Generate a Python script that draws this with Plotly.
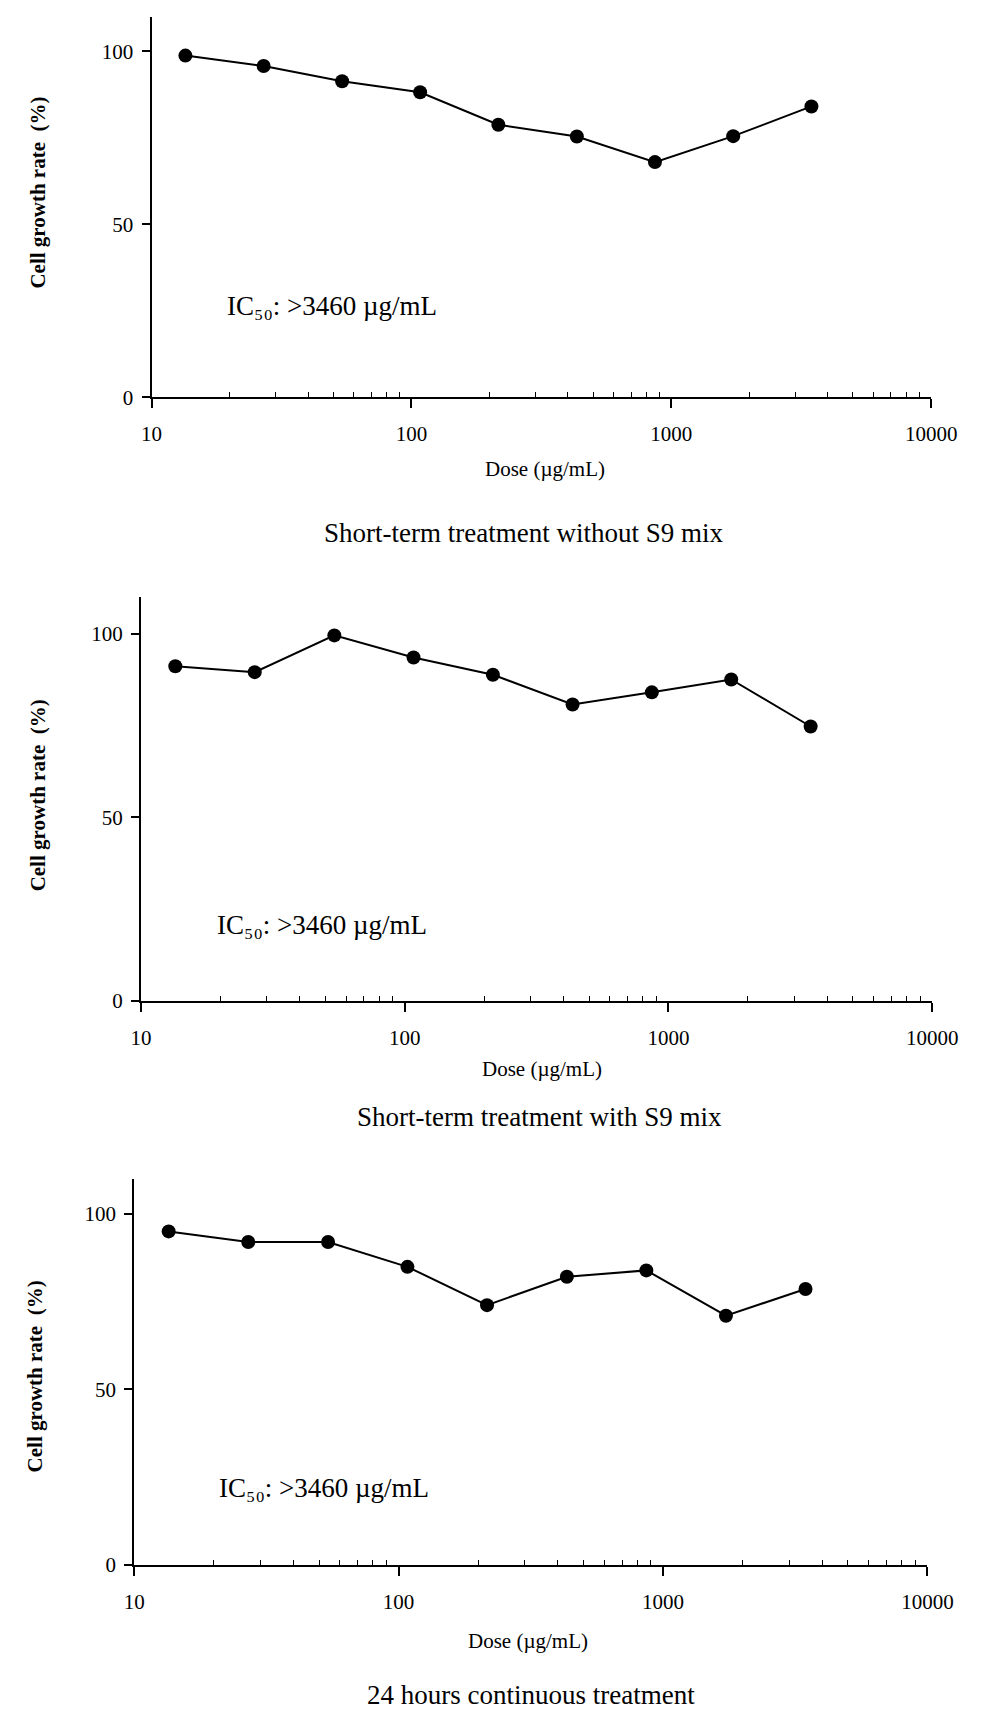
import plotly.graph_objects as go

# ---- data ----
doses = [13.5, 27.0, 54.1, 108, 216, 433, 865, 1730, 3460]
rates_without_s9 = [98.8, 95.8, 91.4, 88.2, 78.8, 75.4, 68.0, 75.5, 84.1]
rates_with_s9 = [91.1, 89.5, 99.5, 93.5, 88.8, 80.7, 84.0, 87.5, 74.7]
rates_24h = [95.0, 92.0, 92.0, 84.9, 74.0, 82.1, 83.9, 71.0, 78.6]
series = [rates_without_s9, rates_with_s9, rates_24h]
panel_titles = ["Short-term treatment without S9 mix",
                "Short-term treatment with S9 mix",
                "24 hours continuous treatment"]
x_tickvals = [10, 100, 1000, 10000]
x_ticktext = ["10", "100", "1000", "10000"]
y_tickvals = [0, 50, 100]
ic50_text = "IC\u2085\u2080: >3460 µg/mL"
x_label = "Dose (µg/mL)"
y_label = "Cell growth rate  (%)"

W, H = 989, 1720
SERIF = "Liberation Serif, Times New Roman, serif"

# panel layout in pixels
panels = [
    dict(l=146, r=956, t=17, b=400, ytitle=(28, 194), ic50=(222, 308),
         dose=(555, 472), sub=(532, 537)),
    dict(l=135, r=957, t=601, b=1008, ytitle=(28, 801), ic50=(212, 932),
         dose=(552, 1077), sub=(549, 1125)),
    dict(l=128, r=952, t=1187, b=1576, ytitle=(25, 1386), ic50=(214, 1498),
         dose=(537, 1653), sub=(540, 1707)),
]

minor_vals = [m * d for d in (10, 100, 1000) for m in range(2, 10)]

fig = go.Figure()
annotations = []
for i, (p, ys) in enumerate(zip(panels, series)):
    n = "" if i == 0 else str(i + 1)
    fig.add_trace(go.Scatter(
        x=doses, y=ys, mode="lines+markers",
        line=dict(color="black", width=2),
        marker=dict(color="black", size=14),
        xaxis="x" + n, yaxis="y" + n, showlegend=False, cliponaxis=False))
    fig.update_layout(**{
        "xaxis" + n: dict(
            domain=[p["l"] / W, p["r"] / W], anchor="y" + n, type="log",
            range=[1, 4], tickvals=x_tickvals, ticktext=x_ticktext,
            ticks="outside", ticklen=9, tickwidth=2, tickcolor="black",
            showline=True, linecolor="black", linewidth=2, showgrid=False,
            zeroline=False, ticklabelstandoff=8,
            tickfont=dict(family=SERIF, size=21, color="black"),
            minor=dict(tickvals=minor_vals, ticks="inside", ticklen=5,
                       tickwidth=1, tickcolor="black", showgrid=False)),
        "yaxis" + n: dict(
            domain=[1 - p["b"] / H, 1 - p["t"] / H], anchor="x" + n,
            range=[0, 110], tickvals=y_tickvals, ticks="outside", ticklen=8,
            tickwidth=2, tickcolor="black", showline=True, linecolor="black",
            linewidth=2, showgrid=False, zeroline=False, ticklabelstandoff=4,
            tickfont=dict(family=SERIF, size=21, color="black")),
    })
    annotations += [
        dict(text=y_label, x=p["ytitle"][0] / W, y=1 - p["ytitle"][1] / H,
             xref="paper", yref="paper", textangle=-90, showarrow=False,
             xanchor="center", yanchor="middle",
             font=dict(family=SERIF, size=21, color="black", weight="bold")),
        dict(text=ic50_text, x=p["ic50"][0] / W, y=1 - p["ic50"][1] / H,
             xref="paper", yref="paper", showarrow=False,
             xanchor="left", yanchor="middle",
             font=dict(family=SERIF, size=27, color="black")),
        dict(text=x_label, x=p["dose"][0] / W, y=1 - p["dose"][1] / H,
             xref="paper", yref="paper", showarrow=False,
             xanchor="center", yanchor="middle",
             font=dict(family=SERIF, size=21, color="black")),
        dict(text=panel_titles[i], x=p["sub"][0] / W, y=1 - p["sub"][1] / H,
             xref="paper", yref="paper", showarrow=False,
             xanchor="center", yanchor="middle",
             font=dict(family=SERIF, size=27, color="black")),
    ]

fig.update_layout(width=W, height=H, margin=dict(l=0, r=0, t=0, b=0),
                  paper_bgcolor="white", plot_bgcolor="white",
                  annotations=annotations)
fig.write_html("out.html")
